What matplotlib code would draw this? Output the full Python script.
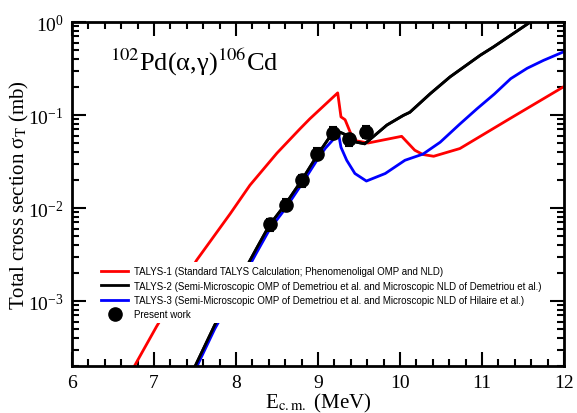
import matplotlib
matplotlib.use("Agg")
import matplotlib.pyplot as plt
from matplotlib.ticker import LogLocator, MultipleLocator, NullFormatter

# ── Data ────────────────────────────────────────────────────────────────────
# TALYS-1 (red)
E_T1 = [6.70, 7.03, 7.52, 7.93, 8.17, 8.50, 8.78, 8.90, 9.24, 9.28, 9.33,
        9.40, 9.47, 9.61, 10.02, 10.18, 10.28, 10.41, 10.73, 11.34, 11.99]
S_T1 = [1.6e-4, 5.3e-4, 2.75e-3, 8.7e-3, 1.76e-2, 3.9e-2, 7.1e-2, 9.1e-2,
        0.173, 0.0955, 0.089, 0.063, 0.0527, 0.050, 0.059, 0.0418, 0.0376,
        0.036, 0.0436, 0.0915, 0.200]

# TALYS-2 (black)
E_T2 = [7.45, 7.74, 8.00, 8.25, 8.41, 8.60, 8.80, 9.00, 9.18, 9.22, 9.31,
        9.47, 9.57, 9.84, 10.04, 10.12, 10.37, 10.61, 10.98, 11.14, 11.59, 11.70]
S_T2 = [1.6e-4, 5.5e-4, 1.45e-3, 3.67e-3, 6.6e-3, 1.09e-2, 1.98e-2, 3.8e-2,
        6.5e-2, 6.8e-2, 6.3e-2, 5.1e-2, 4.9e-2, 7.8e-2, 0.099, 0.107, 0.170,
        0.257, 0.440, 0.540, 1.0, 1.15]

# TALYS-3 (blue)
E_T3 = [7.45, 7.74, 8.00, 8.25, 8.41, 8.60, 8.80, 9.00, 9.09, 9.25, 9.28,
        9.35, 9.45, 9.59, 9.82, 10.06, 10.12, 10.28, 10.49, 10.73, 10.94,
        11.15, 11.35, 11.55, 11.75, 11.99]
S_T3 = [1.45e-4, 5.0e-4, 1.3e-3, 3.3e-3, 5.9e-3, 9.8e-3, 1.8e-2, 3.4e-2,
        4.4e-2, 6.3e-2, 4.5e-2, 3.26e-2, 2.35e-2, 1.95e-2, 2.35e-2, 3.26e-2,
        3.4e-2, 3.8e-2, 5.1e-2, 8.0e-2, 0.117, 0.168, 0.246, 0.318, 0.387, 0.476]

# Present work (measured)
E_exp = [8.41, 8.61, 8.80, 8.99, 9.18, 9.38, 9.58]
S_exp = [6.65e-3, 1.09e-2, 1.99e-2, 3.85e-2, 6.47e-2, 5.48e-2, 6.59e-2]
dS_exp = [1.0e-3, 1.6e-3, 3.0e-3, 5.8e-3, 9.7e-3, 8.2e-3, 9.9e-3]

LABELS = [
    "TALYS-1 (Standard TALYS Calculation; Phenomenoligal OMP and NLD)",
    "TALYS-2 (Semi-Microscopic OMP of Demetriou et al. and Microscopic NLD of Demetriou et al.)",
    "TALYS-3 (Semi-Microscopic OMP of Demetriou et al. and Microscopic NLD of Hilaire et al.)",
    "Present work",
]

plt.rcParams["font.family"] = ["Liberation Serif", "DejaVu Serif"]
plt.rcParams["mathtext.fontset"] = "stix"

fig = plt.figure(figsize=(5.77, 4.14), dpi=100)
ax = fig.add_axes([0.1248, 0.1135, 0.8527, 0.8309])

ax.plot(E_T1, S_T1, color="#ff0000", lw=2, label=LABELS[0])
ax.plot(E_T2, S_T2, color="black", lw=2, label=LABELS[1])
ax.plot(E_T3, S_T3, color="#0000ff", lw=2, label=LABELS[2])
# black redrawn over blue where they overlap
ax.plot(E_T2, S_T2, color="black", lw=2, zorder=2.1)
ax.errorbar(E_exp, S_exp, yerr=dS_exp, fmt="none", ecolor="black",
            elinewidth=1.5, capsize=3, capthick=1.5, zorder=3)
ax.plot(E_exp, S_exp, "o", color="black", ms=9.5, label=LABELS[3], zorder=4)

ax.set_yscale("log")
ax.set_xlim(6, 12)
ax.set_ylim(2e-4, 1)

ax.xaxis.set_major_locator(MultipleLocator(1))
ax.xaxis.set_minor_locator(MultipleLocator(0.2))
ax.yaxis.set_major_locator(LogLocator(base=10, numticks=10))
ax.yaxis.set_minor_locator(LogLocator(base=10, subs=range(2, 10), numticks=20))
ax.yaxis.set_minor_formatter(NullFormatter())

ax.tick_params(which="both", direction="in", top=True, right=True,
               labelsize=14, width=1.5)
ax.tick_params(which="major", length=10, pad=6)
ax.tick_params(which="minor", length=5)
for sp in ax.spines.values():
    sp.set_linewidth(2)

ax.set_xlabel(r"E$_{\rm c.m.}$ (MeV)", fontsize=15, labelpad=0)
ax.set_ylabel(r"Total cross section σ$_{\rm T}$ (mb)", fontsize=15, labelpad=-2)

ax.text(0.077, 0.885, r"$^{102}$Pd(α,γ)$^{106}$Cd",
        transform=ax.transAxes, fontsize=19, ha="left", va="center")

leg = ax.legend(loc="upper left", bbox_to_anchor=(0.052, 0.301), frameon=True,
                borderpad=0.4, borderaxespad=0, labelspacing=0.45,
                handlelength=2.75, handletextpad=0.6, fancybox=False,
                prop={"family": ["Liberation Sans", "DejaVu Sans"], "size": 7})
leg.get_frame().set_edgecolor("none")
leg.get_frame().set_facecolor("white")
leg.get_frame().set_alpha(1)

fig.savefig("out.png", dpi=100)
